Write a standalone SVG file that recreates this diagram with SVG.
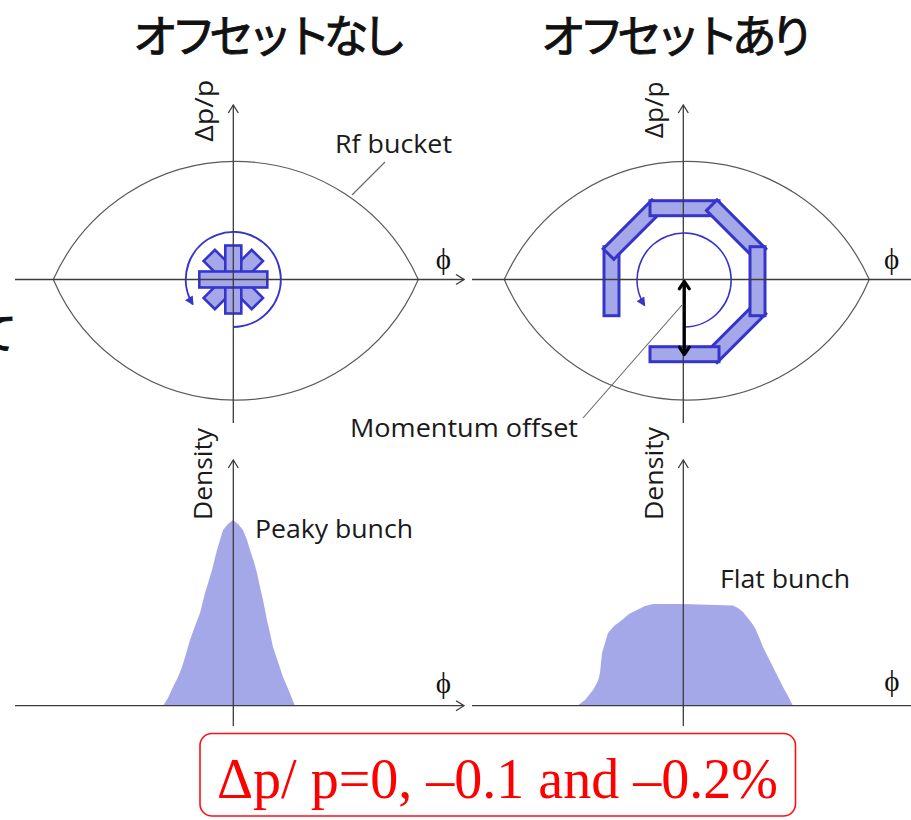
<svg xmlns="http://www.w3.org/2000/svg" width="911" height="820" viewBox="0 0 911 820">
<style>
.ttl{font-family:"Noto Sans CJK JP","Noto Sans CJK SC",sans-serif;font-size:45px;font-weight:400;fill:#111;stroke:#111;stroke-width:0.9}
.lbl{font-family:"Open Sans","Liberation Sans",sans-serif;font-size:25px;fill:#1a1a1a}
.phi{font-family:"Liberation Serif","DejaVu Serif","Times New Roman",serif;font-size:29px;fill:#111;text-anchor:middle}
.axis{stroke:#3c3c3c;stroke-width:1.3;fill:none}
.bucket{stroke:#5a5a5a;stroke-width:1.2;fill:none}
.lead{stroke:#666;stroke-width:1.1;fill:none}
.bar{fill:#A5A8E8;stroke:#3535CC;stroke-width:2.6}
.bar2{fill:#A5A8E8;stroke:#3535CC;stroke-width:3}
.rot{stroke:#3535CC;stroke-width:2;fill:none}
.dens{fill:#A5A8E8;stroke:none}
</style>
<defs>
<marker id="ax" viewBox="0 0 10 12" refX="9" refY="6" markerWidth="10" markerHeight="12" markerUnits="userSpaceOnUse" orient="auto">
<path d="M1,1 L9,6 L1,11" fill="none" stroke="#3c3c3c" stroke-width="1.3"/>
</marker>
<marker id="blu" viewBox="0 0 10 10" refX="8" refY="5" markerWidth="10" markerHeight="9" markerUnits="userSpaceOnUse" orient="auto">
<path d="M0,0 L10,5 L0,10 z" fill="#3535CC"/>
</marker>
<rect id="b1" x="-34" y="-8" width="68" height="16"/>
<rect id="ob" x="-34.5" y="-80.5" width="69" height="15"/>
<path id="eye" d="M53.3,279.5 A200.1,200.1 0 0 1 418.3,279.5 A198.4,198.4 0 0 1 53.3,279.5 Z"/>
</defs>
<rect width="911" height="820" fill="#fff"/>

<g id="title-left"><text class="ttl" x="133" y="53" textLength="274" lengthAdjust="spacing">オフセットなし</text></g>
<g id="title-right"><text class="ttl" x="541" y="53" textLength="274" lengthAdjust="spacing">オフセットあり</text></g>
<g id="edge-fragment"><text x="-26" y="349" style="font-family:'Noto Sans CJK JP',sans-serif;font-size:43px;fill:#111;stroke:#111;stroke-width:0.9">て</text></g>

<g id="bucket-left"><use href="#eye" class="bucket"/></g>
<g id="bucket-right"><use href="#eye" class="bucket" transform="translate(451,0)"/></g>

<g id="bunch-no-offset" transform="translate(233.3,279.5)">
<use href="#b1" class="bar" transform="rotate(45)"/>
<use href="#b1" class="bar" transform="rotate(135)"/>
<use href="#b1" class="bar" transform="rotate(90)"/>
<use href="#b1" class="bar"/>
</g>
<g id="rotation-left"><path class="rot" d="M233.3,327 A47.5,47.5 0 1 0 192.6,304" marker-end="url(#blu)"/></g>

<g id="bunch-offset" transform="translate(684.5,281.2)">
<use href="#ob" class="bar2" transform="rotate(-90)"/>
<use href="#ob" class="bar2" transform="rotate(-45)"/>
<use href="#ob" class="bar2"/>
<use href="#ob" class="bar2" transform="rotate(45)"/>
<use href="#ob" class="bar2" transform="rotate(135)"/>
<use href="#ob" class="bar2" transform="rotate(90)"/>
<use href="#ob" class="bar2" transform="rotate(180)"/>
</g>
<g id="rotation-right"><path class="rot" d="M683.8,327 A47,47 0 1 0 644.3,305" marker-end="url(#blu)" style="stroke-width:1.7"/></g>

<g id="density-peaky"><path class="dens" d="M163,706 L168,698 173,687 178,677 182,667 186,654 190,640 195,626 200,613 205,593 209,580 212,570 217,550 220,540 223,530 228,524 233,520 238,524 243,530 247,540 250,550 254,562 257,573 260,587 263,600 265,610 267,620 270,633 273,647 278,662 283,677 289,691 295,706 Z"/></g>
<g id="density-flat"><path class="dens" d="M577,706 L585,700 593,690 598,681 600,673 601,663 602,653 605,643 608,633 614,626 622,620 629,614 637,610 645,606 653,604 683,604 733,605.5 738,608 743,612 747,617 751,622 755,628 759,637 763,647 768,657 773,667 778,677 783,687 788,696 793,706 Z"/></g>

<g id="axes">
<line class="axis" x1="233.3" y1="423" x2="233.3" y2="105" marker-end="url(#ax)"/>
<line class="axis" x1="15" y1="279.5" x2="464" y2="279.5" marker-end="url(#ax)"/>
<line class="axis" x1="683.3" y1="423" x2="683.3" y2="105" marker-end="url(#ax)"/>
<line class="axis" x1="472" y1="279.5" x2="920" y2="279.5" marker-end="url(#ax)"/>
<line class="axis" x1="233.3" y1="726" x2="233.3" y2="460" marker-end="url(#ax)"/>
<line class="axis" x1="15" y1="705.7" x2="464" y2="705.7" marker-end="url(#ax)"/>
<line class="axis" x1="683.3" y1="726" x2="683.3" y2="460" marker-end="url(#ax)"/>
<line class="axis" x1="472" y1="705.7" x2="920" y2="705.7" marker-end="url(#ax)"/>
</g>

<g id="offset-arrow" fill="none" stroke="#000" stroke-width="3.2" stroke-linecap="round" stroke-linejoin="round">
<line x1="684.3" y1="283" x2="684.3" y2="353"/>
<polyline points="679.3,288.8 684.3,281.5 689.3,288.8"/>
<polyline points="679.3,347.2 684.3,354.5 689.3,347.2"/>
</g>

<g id="connectors">
<line class="lead" x1="385" y1="162" x2="352" y2="195"/>
<line class="lead" x1="682" y1="305" x2="583" y2="418"/>
</g>

<g id="labels">
<text class="lbl" x="335" y="153.3" textLength="117" lengthAdjust="spacingAndGlyphs">Rf bucket</text>
<text class="lbl" x="350" y="437" textLength="228" lengthAdjust="spacingAndGlyphs">Momentum offset</text>
<text class="lbl" x="255" y="538" textLength="158" lengthAdjust="spacingAndGlyphs">Peaky bunch</text>
<text class="lbl" x="720" y="588.3" textLength="130" lengthAdjust="spacingAndGlyphs">Flat bunch</text>
<text class="lbl" transform="translate(212.5,141.7) rotate(-90)" textLength="62" lengthAdjust="spacingAndGlyphs">Δp/p</text>
<text class="lbl" transform="translate(662.5,138.3) rotate(-90)" textLength="57" lengthAdjust="spacingAndGlyphs">Δp/p</text>
<text class="lbl" transform="translate(212.3,520) rotate(-90)" textLength="92" lengthAdjust="spacingAndGlyphs">Density</text>
<text class="lbl" transform="translate(663,520) rotate(-90)" textLength="93" lengthAdjust="spacingAndGlyphs">Density</text>
<text class="phi" x="443.5" y="269">ϕ</text>
<text class="phi" x="891.7" y="269">ϕ</text>
<text class="phi" x="443.5" y="692.5">ϕ</text>
<text class="phi" x="892" y="691">ϕ</text>
</g>

<g id="condition-box">
<rect x="200" y="733.5" width="595.5" height="82.5" rx="12" ry="12" fill="none" stroke="#ff1010" stroke-width="1.6"/>
<text x="217" y="798" textLength="561" lengthAdjust="spacingAndGlyphs" style="font-family:'Liberation Serif','Times New Roman',serif;font-size:57px;fill:#ff0000">Δp/ p=0, –0.1 and –0.2%</text>
</g>
</svg>
